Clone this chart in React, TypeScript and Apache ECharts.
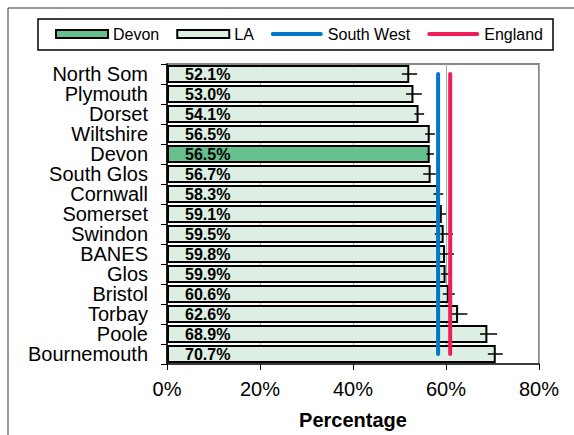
import React, { useEffect, useRef } from "react";
import * as echarts from "echarts";

const categories = ["North Som", "Plymouth", "Dorset", "Wiltshire", "Devon", "South Glos", "Cornwall", "Somerset", "Swindon", "BANES", "Glos", "Bristol", "Torbay", "Poole", "Bournemouth"];
const values = [52.1, 53.0, 54.1, 56.5, 56.5, 56.7, 58.3, 59.1, 59.5, 59.8, 59.9, 60.6, 62.6, 68.9, 70.7];
const lowCI = [50.5, 51.4, 53.2, 55.5, 55.8, 55.1, 57.3, 58.2, 57.6, 57.9, 58.9, 59.3, 61.2, 67.3, 69.0];
const highCI = [53.8, 54.8, 55.3, 57.6, 57.4, 57.8, 59.4, 60.0, 61.5, 61.7, 60.6, 61.9, 64.6, 71.0, 72.2];
const highlight = "Devon";
const southWest = 58.3;
const england = 60.9;
const xTicks = [0, 20, 40, 60, 80];

const FONT = "Liberation Sans, Arial, sans-serif";
const LINE_ICON = "path://M2,0 L50,0 A2,2 0 0 1 50,4 L2,4 A2,2 0 0 1 2,0 Z";

export default function App() {
  const ref = useRef<HTMLDivElement>(null);
  useEffect(() => {
    if (!ref.current) return;
    const chart = echarts.init(ref.current, null, { renderer: "svg" });
    const laData = values.map((v, i) => (categories[i] === highlight ? "-" : v));
    const devonData = values.map((v, i) => (categories[i] === highlight ? v : "-"));
    const labelCfg = {
      show: true,
      position: "insideLeft",
      distance: 18,
      formatter: (p: any) => `${Number(p.value).toFixed(1)}%`,
      fontFamily: FONT,
      fontWeight: "bold",
      fontSize: 16,
      lineHeight: 16,
      color: "#000",
    };
    const errData = categories.map((c, i) => [i, lowCI[i], highCI[i]]);
    const option: any = {
      animation: false,
      textStyle: { fontFamily: FONT },
      graphic: [
        { type: "rect", silent: true, shape: { x: 8, y: 8, width: 800, height: 600 }, style: { fill: "none", stroke: "#333", lineWidth: 1 } },
        { type: "rect", silent: true, shape: { x: 38, y: 19, width: 515, height: 31 }, style: { fill: "none", stroke: "#000", lineWidth: 1.5 } },
      ],
      legend: {
        left: 55,
        top: 26,
        padding: 0,
        itemWidth: 52,
        itemHeight: 8,
        itemGap: 17,
        textStyle: { fontFamily: FONT, fontSize: 16, color: "#000" },
        data: [
          { name: "Devon", icon: "rect" },
          { name: "LA", icon: "rect" },
          { name: "South West", icon: LINE_ICON, itemStyle: { color: "#0077C8", borderWidth: 0 } },
          { name: "England", icon: LINE_ICON, itemStyle: { color: "#EE1E5A", borderWidth: 0 } },
        ],
      },
      grid: { left: 167, right: 35, top: 64, bottom: 61, show: true, borderColor: "#888", borderWidth: 2 },
      xAxis: {
        type: "value",
        min: 0,
        max: 80,
        interval: 20,
        axisLine: { show: true, lineStyle: { color: "#222", width: 1.5 } },
        axisTick: { show: true, length: 6, lineStyle: { color: "#000" } },
        splitLine: { show: true, lineStyle: { color: "#aaa", width: 1 } },
        axisLabel: { formatter: (v: number) => (xTicks.includes(v) ? `${v}%` : ""), fontFamily: FONT, fontSize: 20, color: "#000", margin: 15 },
        name: "Percentage",
        nameLocation: "middle",
        nameGap: 46,
        nameTextStyle: { fontFamily: FONT, fontSize: 20, fontWeight: "bold", color: "#000" },
      },
      yAxis: {
        type: "category",
        data: categories,
        inverse: true,
        axisLine: { show: true, lineStyle: { color: "#000", width: 1.5 } },
        axisTick: { show: true, length: 6, interval: 0, lineStyle: { color: "#000" } },
        axisLabel: { interval: 0, fontFamily: FONT, fontSize: 20, lineHeight: 19, color: "#000", margin: 19 },
        splitLine: { show: false },
      },
      series: [
        {
          name: "LA",
          type: "bar",
          data: laData,
          barWidth: 18,
          barGap: "-100%",
          itemStyle: { color: "#DDEEE2", borderColor: "#000", borderWidth: 2 },
          label: labelCfg,
          z: 2,
        },
        {
          name: "Devon",
          type: "bar",
          data: devonData,
          barWidth: 18,
          barGap: "-100%",
          itemStyle: { color: "#66C08E", borderColor: "#000", borderWidth: 2 },
          label: labelCfg,
          z: 2,
        },
        {
          name: "CI",
          type: "custom",
          data: errData,
          encode: { y: 0, x: [1, 2] },
          z: 3,
          renderItem: (params: any, api: any) => {
            const cat = api.value(0);
            const a = api.coord([api.value(1), cat]);
            const b = api.coord([api.value(2), cat]);
            return {
              type: "line",
              shape: { x1: a[0], y1: a[1], x2: b[0], y2: b[1] },
              style: { stroke: "#000", lineWidth: 1.5 },
            };
          },
        },
        {
          name: "South West",
          type: "line",
          data: [[southWest, 0], [southWest, categories.length - 1]],
          symbol: "none",
          color: "#0077C8",
          lineStyle: { color: "#0077C8", width: 4, cap: "round" },
          z: 5,
        },
        {
          name: "England",
          type: "line",
          data: [[england, 0], [england, categories.length - 1]],
          symbol: "none",
          color: "#EE1E5A",
          lineStyle: { color: "#EE1E5A", width: 4, cap: "round" },
          z: 5,
        },
      ],
    };
    chart.setOption(option);
    return () => chart.dispose();
  }, []);
  return <div ref={ref} style={{ position: "fixed", left: 0, top: 0, width: 574, height: 435, background: "#fff" }} />;
}
